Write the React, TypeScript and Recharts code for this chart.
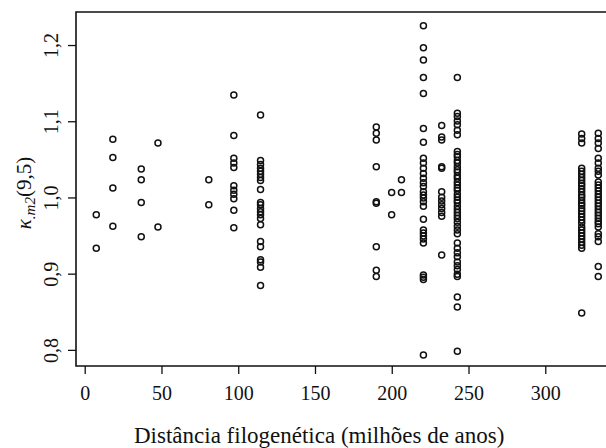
import React from "react";
import {
  ScatterChart,
  Scatter,
  XAxis,
  YAxis,
  ReferenceArea,
} from "recharts";

// distância filogenética (milhões de anos) de cada coluna de pontos
const distancias = [7.2, 18, 36.5, 47.4, 80.5, 96.8, 114.2, 189.6, 199.6, 206, 220.3, 232.2, 242.4, 323.4, 334.2];

const k7 = [0.978, 0.934];
const k18 = [1.077, 1.053, 1.013, 0.963];
const k36 = [1.038, 1.024, 0.994, 0.949];
const k47 = [1.072, 0.962];
const k80 = [1.024, 0.991];
const k97 = [1.135, 1.082, 1.052, 1.046, 1.04, 1.016, 1.01, 1.005, 0.999, 0.984, 0.961];
const k114 = [1.109, 1.049, 1.044, 1.039, 1.035, 1.031, 1.027, 1.023, 1.011, 0.994, 0.991, 0.986, 0.982, 0.978, 0.973, 0.965, 0.943, 0.936, 0.919, 0.916, 0.909, 0.885];
const k190 = [1.093, 1.085, 1.076, 1.041, 0.995, 0.993, 0.936, 0.905, 0.897];
const k200 = [1.007, 0.978];
const k206 = [1.024, 1.007];
const k220 = [1.226, 1.197, 1.181, 1.158, 1.137, 1.091, 1.073, 1.052, 1.046, 1.039, 1.032, 1.026, 1.02, 1.015, 1.008, 1.004, 1.0, 0.995, 0.989, 0.972, 0.958, 0.954, 0.95, 0.946, 0.941, 0.899, 0.896, 0.893, 0.794];
const k232 = [1.095, 1.08, 1.076, 1.041, 1.039, 1.008, 1.001, 0.996, 0.991, 0.986, 0.981, 0.976, 0.925];
const k242 = [1.158, 1.111, 1.107, 1.101, 1.096, 1.089, 1.083, 1.061, 1.057, 1.054, 1.049, 1.046, 1.041, 1.037, 1.034, 1.029, 1.026, 1.021, 1.017, 1.013, 1.01, 1.005, 1.001, 0.997, 0.994, 0.989, 0.985, 0.981, 0.977, 0.973, 0.968, 0.963, 0.958, 0.953, 0.941, 0.934, 0.928, 0.923, 0.916, 0.911, 0.906, 0.9, 0.897, 0.87, 0.857, 0.799];
const k323 = [1.084, 1.078, 1.072, 1.039, 1.035, 1.031, 1.027, 1.023, 1.019, 1.016, 1.012, 1.008, 1.004, 1.001, 0.997, 0.993, 0.99, 0.986, 0.983, 0.979, 0.975, 0.971, 0.967, 0.962, 0.958, 0.954, 0.95, 0.946, 0.942, 0.938, 0.934, 0.849];
const k334 = [1.085, 1.078, 1.072, 1.065, 1.052, 1.046, 1.039, 1.035, 1.03, 1.021, 1.017, 1.013, 1.009, 1.005, 1.001, 0.997, 0.993, 0.989, 0.985, 0.981, 0.977, 0.973, 0.969, 0.966, 0.962, 0.953, 0.949, 0.943, 0.91, 0.897];

const colunas = [k7, k18, k36, k47, k80, k97, k114, k190, k200, k206, k220, k232, k242, k323, k334];

const xTicks = [0, 50, 100, 150, 200, 250, 300];
const yTicks = [0.8, 0.9, 1.0, 1.1, 1.2];

const X_DOMAIN = [-6, 349];
const Y_DOMAIN = [0.7795, 1.244];

const FONT = "'Liberation Serif', 'Times New Roman', serif";

const pontos = colunas.flatMap((ys, i) => ys.map((k) => ({ d: distancias[i], k })));

const Circulo = (p: any) => (
  <circle cx={p.cx} cy={p.cy} r={3} fill="none" stroke="#111" strokeWidth={1.5} />
);

const XTick = (p: any) => (
  <text x={p.x} y={p.y + 24} textAnchor="middle" fontFamily={FONT} fontSize={20} fill="#111">
    {p.payload.value}
  </text>
);

const YTick = (p: any) => {
  const x = p.x - 8;
  return (
    <text
      x={x}
      y={p.y}
      transform={`rotate(-90, ${x}, ${p.y})`}
      textAnchor="middle"
      fontFamily={FONT}
      fontSize={20}
      fill="#111"
    >
      {Number(p.payload.value).toFixed(1).replace(".", ",")}
    </text>
  );
};

export default function App() {
  return (
    <div
      style={{
        position: "fixed",
        top: 0,
        left: 0,
        width: 606,
        height: 448,
        overflow: "hidden",
        background: "#fff",
      }}
    >
      <ScatterChart
        width={640}
        height={448}
        margin={{ top: 12, right: 19, bottom: 32, left: 16 }}
      >
        <XAxis
          type="number"
          dataKey="d"
          domain={X_DOMAIN}
          ticks={xTicks}
          allowDataOverflow
          height={50}
          axisLine={false}
          tickSize={8}
          tickMargin={2}
          tickLine={{ stroke: "#111", strokeWidth: 1.3 }}
          tick={<XTick />}
        />
        <YAxis
          type="number"
          dataKey="k"
          domain={Y_DOMAIN}
          ticks={yTicks}
          allowDataOverflow
          width={60}
          axisLine={false}
          tickSize={8}
          tickMargin={2}
          tickLine={{ stroke: "#111", strokeWidth: 1.3 }}
          tick={<YTick />}
        />
        <ReferenceArea
          x1={X_DOMAIN[0]}
          x2={X_DOMAIN[1]}
          y1={Y_DOMAIN[0]}
          y2={Y_DOMAIN[1]}
          fill="none"
          stroke="#111"
          strokeWidth={1.6}
          ifOverflow="visible"
        />
        <Scatter data={pontos} shape={Circulo} isAnimationActive={false} />
      </ScatterChart>
      <svg
        width={606}
        height={448}
        style={{ position: "absolute", top: 0, left: 0, pointerEvents: "none" }}
      >
        <text
          x={31}
          y={193}
          transform="rotate(-90, 31, 193)"
          textAnchor="middle"
          fontFamily={FONT}
          fontSize={21}
          fill="#111"
        >
          <tspan fontStyle="italic">κ</tspan>
          <tspan fontStyle="italic" fontSize={15} dy={4}>.m2</tspan>
          <tspan dy={-4}>(9,5)</tspan>
        </text>
        <text x={134} y={443} fontFamily={FONT} fontSize={23} fill="#111">
          Distância filogenética (milhões de anos)
        </text>
      </svg>
    </div>
  );
}
